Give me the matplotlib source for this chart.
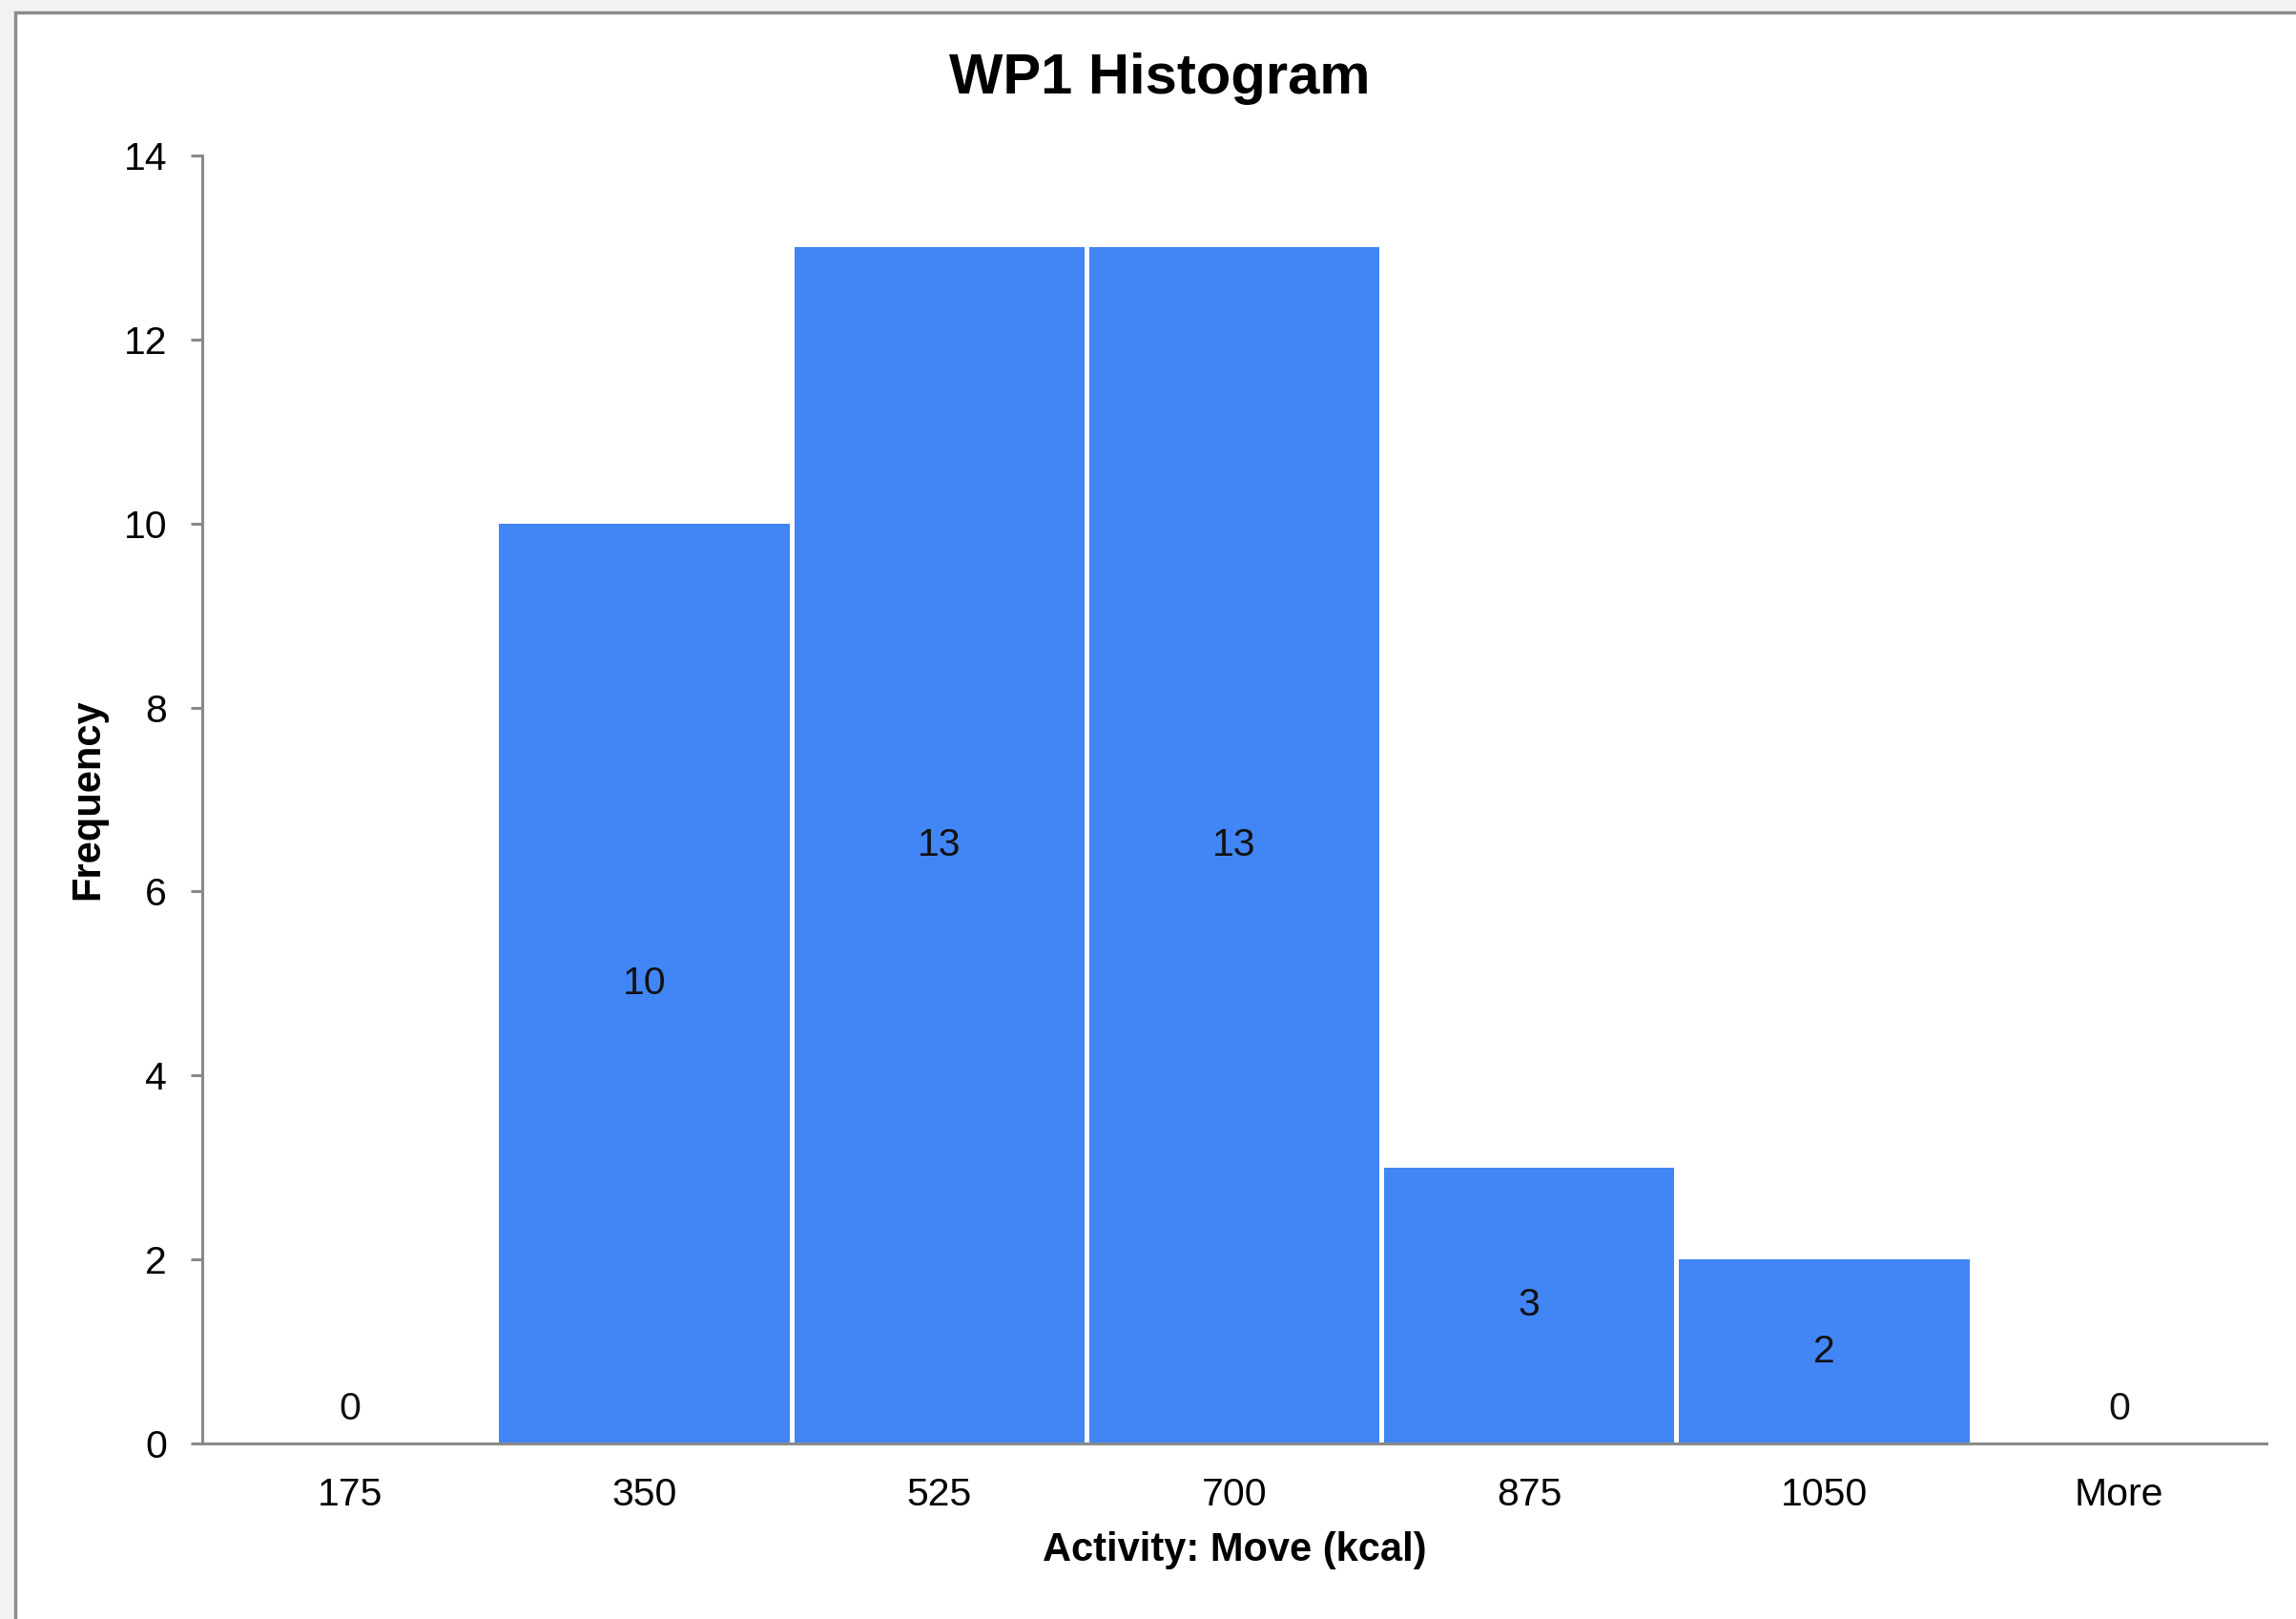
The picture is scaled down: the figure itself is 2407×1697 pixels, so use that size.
import matplotlib
matplotlib.use("Agg")
import matplotlib.pyplot as plt
from matplotlib.patches import Rectangle

plt.rcParams["font.family"] = ["Liberation Sans", "DejaVu Sans"]

# histogram bins (upper edges) and counts
bins = ["175", "350", "525", "700", "875", "1050", "More"]
frequency = [0, 10, 13, 13, 3, 2, 0]
y_ticks = [0, 2, 4, 6, 8, 10, 12, 14]

BAR_COLOR = "#4285F4"
AXIS_COLOR = "#8a8a8a"

fig = plt.figure(figsize=(24.07, 16.97), dpi=100)
fig.patch.set_facecolor("#f1f2f4")

# chart area frame (white with grey border, running off the right/bottom edge)
frame = Rectangle((16 / 2407, -0.05), 1.2, 1.05 - 13 / 1697,
                  transform=fig.transFigure, facecolor="white",
                  edgecolor="#8c8c8c", linewidth=2.5, zorder=-10)
fig.patches.append(frame)

ax = fig.add_axes([212 / 2407, 1 - 1513 / 1697, 2164 / 2407, 1350 / 1697])
ax.set_facecolor("none")

x = range(len(bins))
bars = ax.bar(x, frequency, width=0.985, color=BAR_COLOR, linewidth=0)

# value labels: centred inside bars, zero-height bins get the label just above the axis
nonzero = [f"{v}" if v else "" for v in frequency]
zeros = ["0" if v == 0 else "" for v in frequency]
ax.bar_label(bars, labels=nonzero, label_type="center", fontsize=29.5, color="#111111")
ax.bar_label(bars, labels=zeros, label_type="edge", padding=12, fontsize=29.5, color="#111111")

ax.set_xlim(-0.5, len(bins) - 0.5)
ax.set_ylim(0, 14)
ax.set_xticks(list(x))
ax.set_xticklabels(bins)
ax.set_yticks(y_ticks)

ax.tick_params(axis="x", length=0, pad=25, labelsize=29.5)
ax.tick_params(axis="y", length=8.6, width=2.2, color=AXIS_COLOR, pad=18, labelsize=29.5)

for side in ["top", "right"]:
    ax.spines[side].set_visible(False)
for side in ["left", "bottom"]:
    ax.spines[side].set_color(AXIS_COLOR)
    ax.spines[side].set_linewidth(2.2)

ax.set_xlabel("Activity: Move (kcal)", fontsize=30, fontweight="bold", labelpad=14)
ax.set_ylabel("Frequency", fontsize=30, fontweight="bold")
ax.yaxis.set_label_coords((112 - 212) / 2164, 0.5)

fig.text(1216 / 2407, 1 - 82 / 1697, "WP1 Histogram", fontsize=43,
         fontweight="bold", ha="center", va="center")

fig.savefig("out.png", dpi=100, facecolor=fig.get_facecolor())
